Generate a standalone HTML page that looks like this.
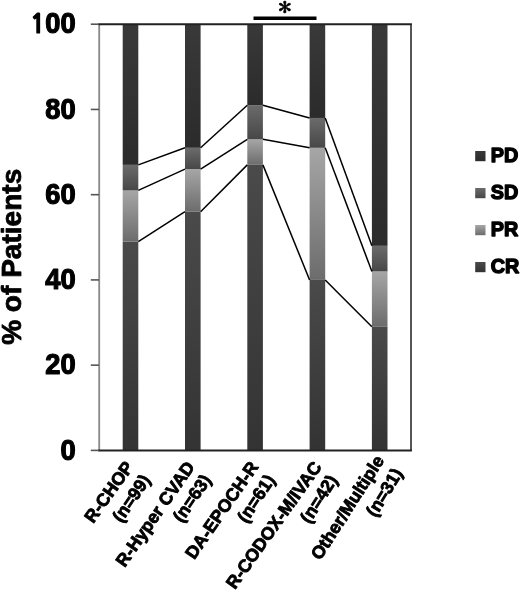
<!DOCTYPE html><html><head><meta charset="utf-8"><style>
html,body{margin:0;padding:0;background:#fff;}
svg{display:block;}
text{font-family:"Liberation Sans",Arial,sans-serif;font-weight:bold;fill:#000;stroke:#000;stroke-linejoin:round;}
</style></head><body>
<svg width="520" height="591" viewBox="0 0 520 591">
<defs>
<linearGradient id="gPD" x1="0" y1="0" x2="0" y2="1"><stop offset="0" stop-color="#393939"/><stop offset="1" stop-color="#2b2b2b"/></linearGradient>
<linearGradient id="gSD" x1="0" y1="0" x2="0" y2="1"><stop offset="0" stop-color="#6b6b6b"/><stop offset="1" stop-color="#474747"/></linearGradient>
<linearGradient id="gPR" x1="0" y1="0" x2="0" y2="1"><stop offset="0" stop-color="#a6a6a6"/><stop offset="1" stop-color="#6c6c6c"/></linearGradient>
<linearGradient id="gCR" x1="0" y1="0" x2="0" y2="1"><stop offset="0" stop-color="#4a4a4a"/><stop offset="1" stop-color="#333333"/></linearGradient>
</defs>

<rect x="122.70" y="241.56" width="15.6" height="208.84" fill="url(#gCR)"/>
<rect x="122.70" y="190.42" width="15.6" height="51.14" fill="url(#gPR)"/>
<rect x="122.70" y="164.85" width="15.6" height="25.57" fill="url(#gSD)"/>
<rect x="122.70" y="24.20" width="15.6" height="140.65" fill="url(#gPD)"/>
<rect x="185.00" y="211.73" width="15.6" height="238.67" fill="url(#gCR)"/>
<rect x="185.00" y="169.11" width="15.6" height="42.62" fill="url(#gPR)"/>
<rect x="185.00" y="147.80" width="15.6" height="21.31" fill="url(#gSD)"/>
<rect x="185.00" y="24.20" width="15.6" height="123.60" fill="url(#gPD)"/>
<rect x="247.30" y="164.85" width="15.6" height="285.55" fill="url(#gCR)"/>
<rect x="247.30" y="139.27" width="15.6" height="25.57" fill="url(#gPR)"/>
<rect x="247.30" y="105.18" width="15.6" height="34.10" fill="url(#gSD)"/>
<rect x="247.30" y="24.20" width="15.6" height="80.98" fill="url(#gPD)"/>
<rect x="309.60" y="279.92" width="15.6" height="170.48" fill="url(#gCR)"/>
<rect x="309.60" y="147.80" width="15.6" height="132.12" fill="url(#gPR)"/>
<rect x="309.60" y="117.96" width="15.6" height="29.83" fill="url(#gSD)"/>
<rect x="309.60" y="24.20" width="15.6" height="93.76" fill="url(#gPD)"/>
<rect x="371.90" y="326.80" width="15.6" height="123.60" fill="url(#gCR)"/>
<rect x="371.90" y="271.40" width="15.6" height="55.41" fill="url(#gPR)"/>
<rect x="371.90" y="245.82" width="15.6" height="25.57" fill="url(#gSD)"/>
<rect x="371.90" y="24.20" width="15.6" height="221.62" fill="url(#gPD)"/>
<line x1="138.30" y1="241.56" x2="185.00" y2="211.73" stroke="#000" stroke-width="1.5"/>
<line x1="138.30" y1="190.42" x2="185.00" y2="169.11" stroke="#000" stroke-width="1.5"/>
<line x1="138.30" y1="164.85" x2="185.00" y2="147.80" stroke="#000" stroke-width="1.5"/>
<line x1="200.60" y1="211.73" x2="247.30" y2="164.85" stroke="#000" stroke-width="1.5"/>
<line x1="200.60" y1="169.11" x2="247.30" y2="139.27" stroke="#000" stroke-width="1.5"/>
<line x1="200.60" y1="147.80" x2="247.30" y2="105.18" stroke="#000" stroke-width="1.5"/>
<line x1="262.90" y1="164.85" x2="309.60" y2="279.92" stroke="#000" stroke-width="1.5"/>
<line x1="262.90" y1="139.27" x2="309.60" y2="147.80" stroke="#000" stroke-width="1.5"/>
<line x1="262.90" y1="105.18" x2="309.60" y2="117.96" stroke="#000" stroke-width="1.5"/>
<line x1="325.20" y1="279.92" x2="371.90" y2="326.80" stroke="#000" stroke-width="1.5"/>
<line x1="325.20" y1="147.80" x2="371.90" y2="271.40" stroke="#000" stroke-width="1.5"/>
<line x1="325.20" y1="117.96" x2="371.90" y2="245.82" stroke="#000" stroke-width="1.5"/>
<line x1="99.2" y1="24.2" x2="99.2" y2="450.4" stroke="#888" stroke-width="1.8"/>
<line x1="411" y1="24.2" x2="411" y2="450.4" stroke="#444" stroke-width="1.8"/>
<line x1="98.3" y1="24.2" x2="411.9" y2="24.2" stroke="#222" stroke-width="2"/>
<line x1="98.3" y1="450.4" x2="411.9" y2="450.4" stroke="#222" stroke-width="2"/>
<line x1="90.8" y1="450.40" x2="99" y2="450.40" stroke="#555" stroke-width="1.6"/>
<text transform="translate(75.6,459.50) scale(0.955,1)" font-size="28.6" stroke-width="1.2" text-anchor="end">0</text>
<line x1="90.8" y1="365.16" x2="99" y2="365.16" stroke="#555" stroke-width="1.6"/>
<text transform="translate(75.6,374.26) scale(0.955,1)" font-size="28.6" stroke-width="1.2" text-anchor="end">20</text>
<line x1="90.8" y1="279.92" x2="99" y2="279.92" stroke="#555" stroke-width="1.6"/>
<text transform="translate(75.6,289.02) scale(0.955,1)" font-size="28.6" stroke-width="1.2" text-anchor="end">40</text>
<line x1="90.8" y1="194.68" x2="99" y2="194.68" stroke="#555" stroke-width="1.6"/>
<text transform="translate(75.6,203.78) scale(0.955,1)" font-size="28.6" stroke-width="1.2" text-anchor="end">60</text>
<line x1="90.8" y1="109.44" x2="99" y2="109.44" stroke="#555" stroke-width="1.6"/>
<text transform="translate(75.6,118.54) scale(0.955,1)" font-size="28.6" stroke-width="1.2" text-anchor="end">80</text>
<line x1="90.8" y1="24.20" x2="99" y2="24.20" stroke="#555" stroke-width="1.6"/>
<text transform="translate(75.6,33.30) scale(0.955,1)" font-size="28.6" stroke-width="1.2" text-anchor="end"><tspan style="font-family:NanumGothic,sans-serif;font-size:26.5px">1</tspan>00</text>
<text transform="translate(20.6,256.8) rotate(-90) scale(0.985,1)" font-size="28.5" stroke-width="0.8" text-anchor="middle">% of Patients</text>
<rect x="253.5" y="16.5" width="63" height="3.5" fill="#000"/>
<text transform="translate(284.75,16.3) scale(1.15,1)" font-size="23" font-family="IPAGothic" style="font-family:IPAGothic,sans-serif;font-weight:normal" stroke-width="0.6" text-anchor="middle">*</text>
<rect x="475.2" y="151" width="10.3" height="10.2" fill="url(#gPD)"/>
<text transform="translate(490.7,162.4) scale(0.97,1)" font-size="20.4" stroke-width="1.4">PD</text>
<rect x="475.2" y="188" width="10.3" height="10.2" fill="url(#gSD)"/>
<text transform="translate(490.7,199.4) scale(0.97,1)" font-size="20.4" stroke-width="1.4">SD</text>
<rect x="475.2" y="225" width="10.3" height="10.2" fill="url(#gPR)"/>
<text transform="translate(490.7,236.4) scale(0.97,1)" font-size="20.4" stroke-width="1.4">PR</text>
<rect x="475.2" y="262" width="10.3" height="10.2" fill="url(#gCR)"/>
<text transform="translate(490.7,273.4) scale(0.97,1)" font-size="20.4" stroke-width="1.4">CR</text>
<text transform="translate(134.21,467.01) rotate(-54.2)" font-size="17.8" stroke-width="0.85" text-anchor="end">R-CHOP</text>
<text transform="translate(151.17,479.89) rotate(-55.8)" font-size="17.8" stroke-width="0.85" text-anchor="end">(n=99)</text>
<text transform="translate(195.41,467.01) rotate(-55.0)" font-size="17.8" stroke-width="0.85" text-anchor="end">R-Hyper CVAD</text>
<text transform="translate(211.87,479.89) rotate(-55.6)" font-size="17.8" stroke-width="0.85" text-anchor="end">(n=63)</text>
<text transform="translate(259.11,467.01) rotate(-55.2)" font-size="17.8" stroke-width="0.85" text-anchor="end">DA-EPOCH-R</text>
<text transform="translate(275.77,479.89) rotate(-56.3)" font-size="17.8" stroke-width="0.85" text-anchor="end">(n=61)</text>
<text transform="translate(322.41,467.01) rotate(-54.6)" font-size="17.8" stroke-width="0.85" text-anchor="end">R-CODOX-M/IVAC</text>
<text transform="translate(338.07,479.89) rotate(-57.4)" font-size="17.8" stroke-width="0.85" text-anchor="end">(n=42)</text>
<text transform="translate(384.86,460.51) rotate(-57.3)" font-size="17.8" stroke-width="0.85" text-anchor="end">Other/Multiple</text>
<text transform="translate(403.17,472.99) rotate(-58.6)" font-size="17.8" stroke-width="0.85" text-anchor="end">(n=31)</text>
</svg></body></html>
